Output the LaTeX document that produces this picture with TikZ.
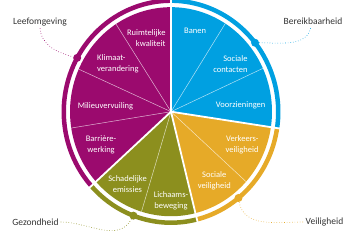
\documentclass[tikz,border=0pt]{standalone}
\usepackage{fontspec}
\setmainfont{Carlito}
\usepackage{xcolor}
\usepackage{tikz}

\definecolor{leefpurple}{RGB}{155,10,110}
\definecolor{bereikblue}{RGB}{0,160,225}
\definecolor{veiligyellow}{RGB}{230,170,40}
\definecolor{gezondolive}{RGB}{140,143,30}
\definecolor{themegrey}{RGB}{51,51,51}

\begin{document}
\begin{tikzpicture}[
  x=1pt, y=1pt,
  seg/.style={text=white, align=center, inner sep=1pt, font=\fontsize{8.5}{11}\selectfont},
  theme/.style={text=themegrey, inner sep=2pt, font=\fontsize{9.5}{11}\selectfont},
  ring/.style={line width=4.5pt},
  split/.style={white, line width=1.8pt},
  thinsplit/.style={white, line width=0.5pt, opacity=0.7},
  dot/.style={circle, fill, inner sep=0pt, minimum size=8pt},
  link/.style={dotted, line width=0.6pt}
]
  \useasboundingbox (0,0) rectangle (358,235);

  \begin{scope}[shift={(171,123.3)}, yscale=1.035]
    % sectors
    \fill[bereikblue] (0,0) -- (90:101) arc[start angle=90, end angle=-8.5, radius=101] -- cycle;
    \fill[veiligyellow] (0,0) -- (-8.5:101) arc[start angle=-8.5, end angle=-76, radius=101] -- cycle;
    \fill[gezondolive] (0,0) -- (-76:101) arc[start angle=-76, end angle=-138, radius=101] -- cycle;
    \fill[leefpurple] (0,0) -- (222:101) arc[start angle=222, end angle=90, radius=101] -- cycle;

    % outer ring
    \draw[ring, bereikblue] (90:107.25) arc[start angle=90, end angle=-8.5, radius=107.25];
    \draw[ring, veiligyellow] (-8.5:107.25) arc[start angle=-8.5, end angle=-76, radius=107.25];
    \draw[ring, gezondolive] (-76:107.25) arc[start angle=-76, end angle=-138, radius=107.25];
    \draw[ring, leefpurple] (222:107.25) arc[start angle=222, end angle=90, radius=107.25];

    \foreach \a in {57.5,24.5,-42,-107,123,156,189}
      \draw[thinsplit] (0,0) -- (\a:101);
    \foreach \a in {90,-8.5,-76,-138}
      \draw[split] (0,0) -- (\a:112);

    \node[dot, leefpurple] (dotLeef) at (151:107.25) {};
    \node[dot, bereikblue] (dotBereik) at (38.4:107.25) {};
    \node[dot, veiligyellow] (dotVeilig) at (-51:107.25) {};
    \node[dot, gezondolive] (dotGezond) at (-110.5:107.25) {};
  \end{scope}

  % segment texts
  \node[seg, anchor=west] (banen) at (183,204) {Banen};
  \node[seg, align=right, anchor=east] (contacten) at (248.7,171) {Sociale\\contacten};
  \node[seg] (voorz) at (240.7,130) {Voorzieningen};
  \node[seg, align=right, anchor=east] (verkeer) at (259.7,90.5) {Verkeers-\\veiligheid};
  \node[seg] (socveilig) at (214.3,54.7) {Sociale\\veiligheid};
  \node[seg] (beweging) at (171,34.7) {Lichaams-\\beweging};
  \node[seg] (emissies) at (127.5,51) {Schadelijke\\emissies};
  \node[seg] (barriere) at (101,90.5) {Barrière-\\werking};
  \node[seg] (milieu) at (105.5,129) {Milieuvervuiling};
  \node[seg, align=left, anchor=west] (klimaat) at (96,171.2) {Klimaat-\\verandering};
  \node[seg, align=right, anchor=east] (ruimte) at (166.7,197.2) {Ruimtelijke\\kwaliteit};

  % themes
  \node[theme] (leef) at (40,213) {Leefomgeving};
  \node[theme] (bereik) at (313,214) {Bereikbaarheid};
  \node[theme] (veilig) at (324.5,13) {Veiligheid};
  \node[theme] (gezond) at (35.5,13) {Gezondheid};

  \draw[link, leefpurple] (leef.south) to[out=-85, in=165] (dotLeef);
  \draw[link, bereikblue] (dotBereik) to[out=0, in=-100] ([xshift=-2pt]bereik.south);
  \draw[link, veiligyellow] (dotVeilig) to[out=-80, in=180] (veilig.west);
  \draw[link, gezondolive] (gezond.east) to[out=0, in=-120] (dotGezond);
\end{tikzpicture}
\end{document}
